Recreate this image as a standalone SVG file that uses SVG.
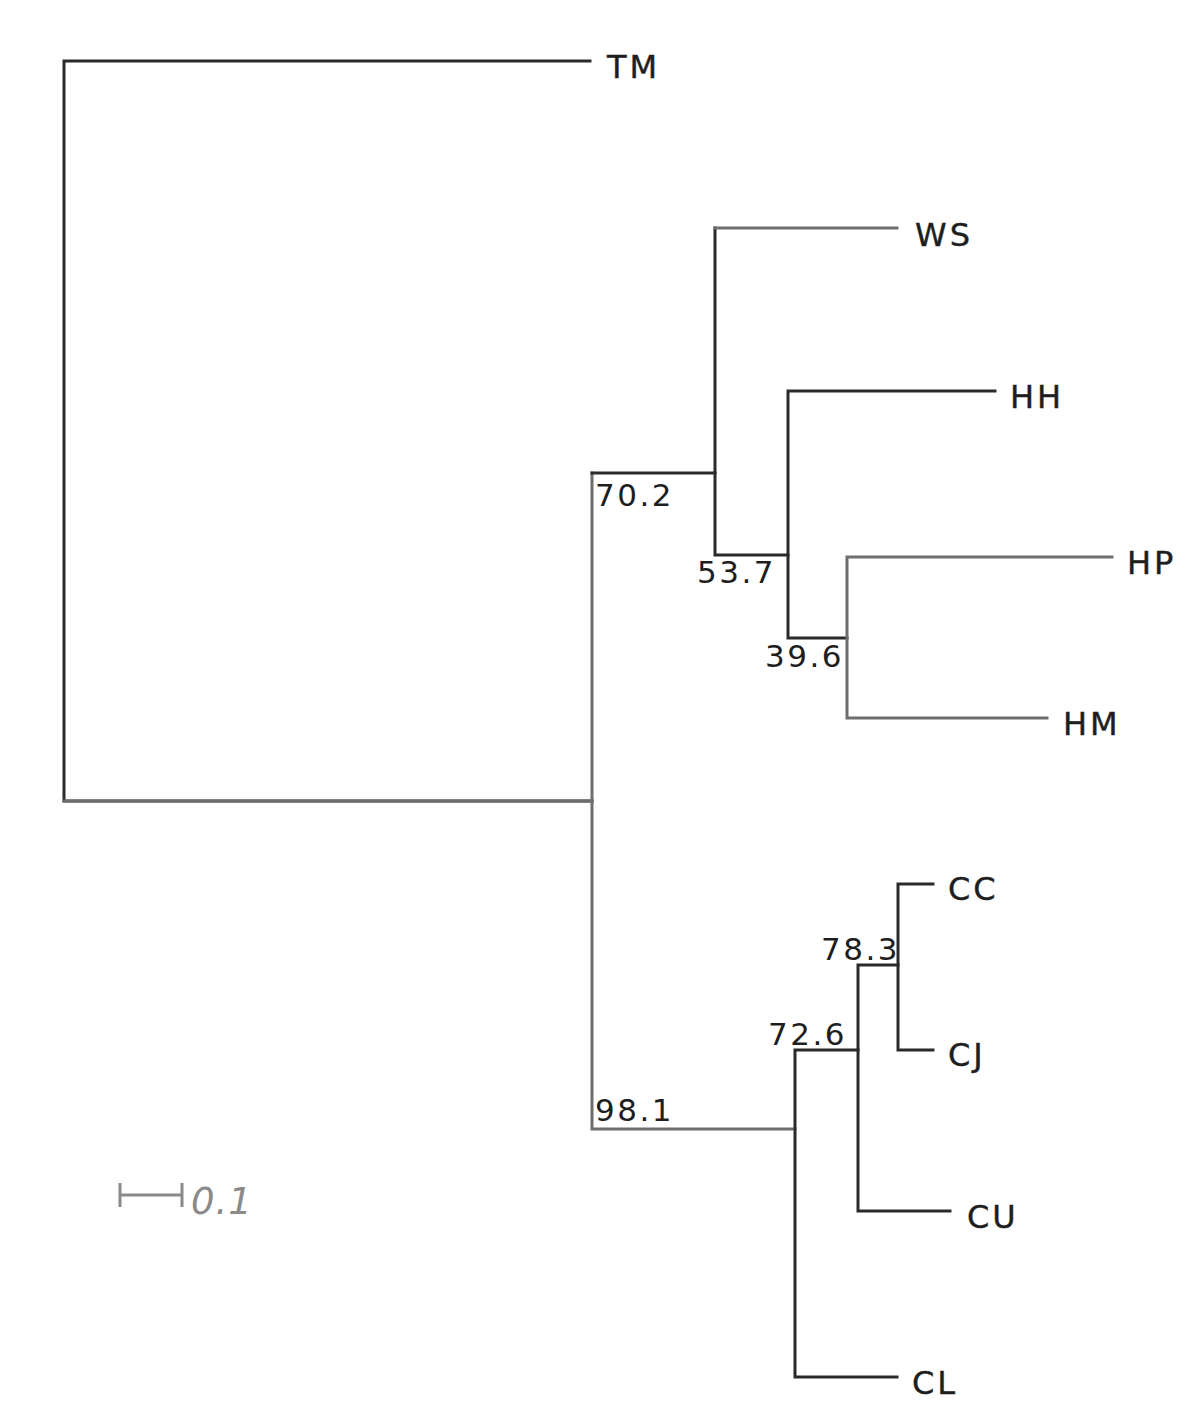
<svg xmlns="http://www.w3.org/2000/svg" width="1200" height="1420" viewBox="0 0 1200 1420">
<style>
.e{fill:none;stroke:#2a2a2a;stroke-width:3;stroke-linecap:square}
.g{stroke:#6e6e6e}
.lab{font-family:"DejaVu Sans","Liberation Sans",sans-serif;font-size:32px;fill:#1e1e1e;letter-spacing:3px;stroke:#1e1e1e;stroke-width:0.4px}
.bs{font-family:"DejaVu Sans","Liberation Sans",sans-serif;font-size:31px;fill:#1e1e1e;letter-spacing:2.5px}
.sc{font-family:"DejaVu Sans","Liberation Sans",sans-serif;font-size:37px;font-style:italic;fill:#8a8a8a;letter-spacing:1px}
</style>
<rect width="1200" height="1420" fill="#ffffff"/>
<g id="connectors">
<path class="e" d="M590,61 H64 V801 H592"/>
<path class="e g" d="M64,801 H592 V473"/>
<path class="e" d="M592,473 H715 V228"/>
<path class="e g" d="M715,228 H897"/>
<path class="e" d="M715,473 V555 H788"/>
<path class="e" d="M788,391 V638 H847 M788,391 H995"/>
<path class="e g" d="M847,557 V718 M847,557 H1112 M847,718 H1047"/>
<path class="e g" d="M592,801 V1129 H795"/>
<path class="e" d="M795,1050 V1377 H897 M795,1050 H858"/>
<path class="e" d="M858,965 V1211 H950 M858,965 H898"/>
<path class="e" d="M898,884 V1050 H933 M898,884 H933"/>
</g>
<g id="node-TM"><text class="lab" x="607" y="78">TM</text></g>
<g id="node-WS"><text class="lab" x="915" y="246">WS</text></g>
<g id="node-HH"><text class="lab" x="1010" y="408">HH</text></g>
<g id="node-HP"><text class="lab" x="1127" y="574">HP</text></g>
<g id="node-HM"><text class="lab" x="1063" y="735">HM</text></g>
<g id="node-CC"><text class="lab" x="948" y="900">CC</text></g>
<g id="node-CJ"><text class="lab" x="948" y="1066">CJ</text></g>
<g id="node-CU"><text class="lab" x="967" y="1228">CU</text></g>
<g id="node-CL"><text class="lab" x="912" y="1394">CL</text></g>
<g id="support">
<text class="bs" x="595" y="506">70.2</text>
<text class="bs" x="697" y="583">53.7</text>
<text class="bs" x="765" y="667">39.6</text>
<text class="bs" x="821" y="960">78.3</text>
<text class="bs" x="768" y="1045">72.6</text>
<text class="bs" x="595" y="1121">98.1</text>
</g>
<g id="scale-bar">
<path d="M120,1195 H182 M120,1183 V1207 M182,1183 V1207" fill="none" stroke="#8a8a8a" stroke-width="3"/>
<text class="sc" x="191" y="1214">0.1</text>
</g>
</svg>
